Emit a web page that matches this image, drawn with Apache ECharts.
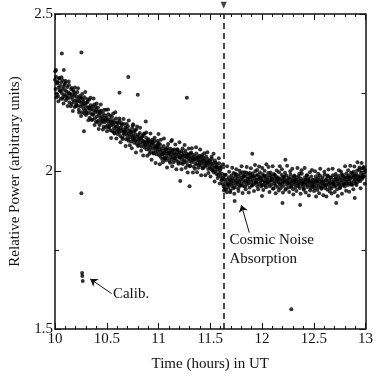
<!DOCTYPE html>
<html>
<head>
<meta charset="utf-8">
<script src="https://cdn.jsdelivr.net/npm/echarts@6/dist/echarts.min.js"></script>
<style>
  html, body { margin: 0; padding: 0; background: #fff; }
  #chart { width: 376px; height: 377px; }
</style>
</head>
<body>
<div id="chart"></div>
<script>
// Receiver power samples, one every 0.005 h, split in half-hour blocks.
const sampleStep = 0.005;
const blockStarts = [10.0, 10.5, 11.0, 11.5, 12.0, 12.5];

const power1000 = [ // 10.0 - 10.5
  2.291, 2.262, 2.301, 2.248, 2.279, 2.285, 2.240, 2.266, 2.296, 2.257,
  2.272, 2.231, 2.283, 2.249, 2.262, 2.290, 2.238, 2.270, 2.244, 2.259,
  2.281, 2.226, 2.254, 2.241, 2.268, 2.232, 2.251, 2.275, 2.219, 2.247,
  2.236, 2.262, 2.214, 2.243, 2.229, 2.258, 2.221, 2.240, 2.205, 2.247,
  2.226, 2.213, 2.238, 2.252, 2.209, 2.231, 2.196, 2.224, 2.240, 2.207,
  2.219, 2.234, 2.188, 2.211, 2.229, 2.200, 2.216, 2.236, 2.193, 2.209,
  2.179, 2.218, 2.199, 2.221, 2.186, 2.204, 2.228, 2.171, 2.195, 2.210,
  2.183, 2.199, 2.164, 2.207, 2.181, 2.194, 2.213, 2.169, 2.188, 2.158,
  2.197, 2.175, 2.190, 2.203, 2.162, 2.180, 2.148, 2.186, 2.171, 2.193,
  2.155, 2.174, 2.161, 2.184, 2.142, 2.169, 2.156, 2.178, 2.140, 2.165
];
const power1050 = [ // 10.5 - 11.0
  2.171, 2.146, 2.160, 2.182, 2.139, 2.153, 2.166, 2.131, 2.158, 2.147,
  2.174, 2.128, 2.150, 2.163, 2.137, 2.121, 2.155, 2.142, 2.168, 2.130,
  2.144, 2.119, 2.152, 2.136, 2.125, 2.160, 2.113, 2.140, 2.129, 2.148,
  2.108, 2.133, 2.122, 2.151, 2.117, 2.128, 2.140, 2.102, 2.124, 2.135,
  2.115, 2.144, 2.098, 2.120, 2.131, 2.109, 2.126, 2.095, 2.117, 2.138,
  2.104, 2.112, 2.127, 2.091, 2.108, 2.119, 2.099, 2.133, 2.087, 2.110,
  2.097, 2.116, 2.084, 2.103, 2.122, 2.092, 2.106, 2.079, 2.100, 2.113,
  2.088, 2.096, 2.118, 2.076, 2.094, 2.083, 2.107, 2.071, 2.091, 2.099,
  2.080, 2.102, 2.068, 2.087, 2.076, 2.095, 2.061, 2.084, 2.093, 2.072,
  2.089, 2.057, 2.078, 2.097, 2.066, 2.081, 2.055, 2.074, 2.086, 2.063
];
const power1100 = [ // 11.0 - 11.5
  2.078, 2.052, 2.069, 2.085, 2.047, 2.061, 2.074, 2.040, 2.066, 2.055,
  2.081, 2.044, 2.059, 2.071, 2.036, 2.063, 2.050, 2.077, 2.042, 2.058,
  2.067, 2.033, 2.054, 2.072, 2.046, 2.060, 2.039, 2.065, 2.051, 2.029,
  2.057, 2.070, 2.043, 2.053, 2.035, 2.062, 2.048, 2.068, 2.031, 2.055,
  2.044, 2.061, 2.027, 2.050, 2.064, 2.038, 2.052, 2.024, 2.047, 2.059,
  2.036, 2.049, 2.066, 2.030, 2.045, 2.056, 2.021, 2.042, 2.054, 2.033,
  2.048, 2.018, 2.040, 2.060, 2.029, 2.044, 2.035, 2.052, 2.015, 2.038,
  2.047, 2.026, 2.041, 2.057, 2.022, 2.036, 2.045, 2.012, 2.033, 2.050,
  2.027, 2.039, 2.019, 2.046, 2.030, 2.010, 2.034, 2.043, 2.024, 2.037,
  2.016, 2.031, 2.048, 2.020, 2.028, 2.040, 2.008, 2.025, 2.035, 2.014
];
const power1150 = [ // 11.5 - 12.0
  2.031, 2.009, 2.024, 2.040, 2.003, 2.018, 2.027, 1.997, 2.012, 2.035,
  2.001, 2.015, 1.992, 2.022, 2.006, 1.989, 2.013, 2.026, 1.995, 2.004,
  1.985, 2.011, 1.972, 1.993, 1.960, 1.981, 1.952, 1.976, 1.945, 1.968,
  1.990, 1.957, 1.934, 1.975, 1.963, 1.949, 1.982, 1.958, 1.971, 1.940,
  1.966, 1.987, 1.954, 1.978, 1.961, 1.995, 1.969, 1.950, 1.983, 1.972,
  1.958, 1.990, 1.964, 1.977, 1.947, 1.985, 1.968, 1.956, 1.993, 1.974,
  1.962, 1.981, 1.998, 1.955, 1.973, 1.988, 1.966, 1.952, 1.984, 1.970,
  1.996, 1.959, 1.977, 1.991, 1.963, 1.980, 1.949, 1.975, 1.989, 1.967,
  1.982, 1.957, 1.994, 1.971, 1.985, 1.960, 1.978, 2.001, 1.964, 1.987,
  1.973, 1.953, 1.990, 1.976, 1.961, 1.983, 1.997, 1.968, 1.979, 1.958
];
const power1200 = [ // 12.0 - 12.5
  1.972, 1.991, 1.958, 1.983, 1.969, 2.002, 1.964, 1.978, 1.950, 1.986,
  1.974, 1.961, 1.995, 1.967, 1.980, 1.953, 1.988, 1.971, 1.959, 1.984,
  1.976, 1.945, 1.970, 1.992, 1.962, 1.979, 1.956, 1.985, 1.968, 1.974,
  1.951, 1.981, 1.965, 1.998, 1.960, 1.973, 1.947, 1.977, 1.989, 1.963,
  1.970, 1.954, 1.983, 1.966, 1.975, 1.942, 1.969, 1.987, 1.958, 1.972,
  1.964, 1.980, 1.949, 1.976, 1.961, 1.990, 1.967, 1.955, 1.979, 1.971,
  1.944, 1.965, 1.984, 1.959, 1.973, 1.950, 1.968, 1.982, 1.962, 1.975,
  1.957, 1.986, 1.966, 1.948, 1.970, 1.978, 1.960, 1.993, 1.964, 1.953,
  1.972, 1.946, 1.967, 1.981, 1.958, 1.975, 1.963, 1.988, 1.951, 1.969,
  1.977, 1.956, 1.966, 1.940, 1.971, 1.984, 1.961, 1.952, 1.974, 1.965
];
const power1250 = [ // 12.5 - 13.0
  1.958, 1.975, 1.947, 1.966, 1.984, 1.954, 1.970, 1.941, 1.962, 1.979,
  1.951, 1.968, 1.987, 1.957, 1.973, 1.945, 1.964, 1.981, 1.953, 1.969,
  1.960, 1.990, 1.948, 1.972, 1.956, 1.977, 1.943, 1.966, 1.985, 1.959,
  1.971, 1.950, 1.963, 1.980, 1.946, 1.968, 1.957, 1.988, 1.962, 1.974,
  1.952, 1.967, 1.983, 1.955, 1.976, 1.944, 1.970, 1.961, 1.986, 1.958,
  1.973, 1.949, 1.979, 1.965, 1.991, 1.956, 1.972, 1.984, 1.960, 1.977,
  1.952, 1.981, 1.968, 1.994, 1.963, 1.975, 1.957, 1.987, 1.970, 1.982,
  1.961, 1.978, 1.996, 1.966, 1.985, 1.958, 1.980, 1.999, 1.969, 1.988,
  1.974, 1.962, 1.992, 1.979, 2.003, 1.967, 1.986, 1.975, 2.006, 1.983,
  1.970, 1.995, 1.981, 2.009, 1.977, 1.990, 2.012, 1.984, 1.998, 2.005
];
const powerBlocks = [power1000, power1050, power1100, power1150, power1200, power1250];

// second receiver channel: every 0.01 h, offset by 0.0025 h, noisier
const altStep = 0.01;
const altOffset = 0.0025;
const alt1000 = [
  2.318, 2.236, 2.282, 2.223, 2.296, 2.255, 2.299, 2.231, 2.216, 2.276,
  2.287, 2.235, 2.208, 2.286, 2.248, 2.207, 2.265, 2.192, 2.252, 2.267,
  2.207, 2.221, 2.264, 2.187, 2.234, 2.176, 2.246, 2.222, 2.184, 2.252,
  2.187, 2.229, 2.163, 2.202, 2.234, 2.164, 2.180, 2.232, 2.148, 2.205,
  2.216, 2.156, 2.135, 2.191, 2.213, 2.162, 2.133, 2.195, 2.163, 2.196
];
const alt1050 = [
  2.128, 2.197, 2.142, 2.178, 2.106, 2.156, 2.184, 2.124, 2.188, 2.105,
  2.156, 2.132, 2.168, 2.093, 2.153, 2.103, 2.167, 2.128, 2.081, 2.151,
  2.104, 2.162, 2.083, 2.125, 2.074, 2.146, 2.100, 2.131, 2.060, 2.143,
  2.081, 2.105, 2.139, 2.066, 2.112, 2.051, 2.121, 2.085, 2.124, 2.050,
  2.095, 2.056, 2.121, 2.037, 2.101, 2.059, 2.107, 2.027, 2.077, 2.097
];
const alt1100 = [
  2.090, 2.023, 2.101, 2.055, 2.029, 2.105, 2.041, 2.071, 2.013, 2.087,
  2.059, 2.028, 2.096, 2.017, 2.069, 2.041, 2.086, 2.007, 2.071, 2.025,
  2.093, 2.045, 2.007, 2.073, 2.029, 2.084, 2.012, 2.050, 1.997, 2.073,
  2.017, 2.057, 2.074, 1.997, 2.041, 2.009, 2.077, 1.998, 2.046, 2.022,
  2.070, 1.988, 2.052, 2.011, 2.058, 1.988, 2.026, 2.061, 1.995, 2.034
];
const alt1150 = [
  1.984, 2.047, 2.005, 2.056, 1.968, 2.028, 2.014, 1.979, 2.042, 1.962,
  2.015, 1.975, 2.023, 1.940, 1.989, 1.943, 2.017, 1.959, 1.999, 1.934,
  1.974, 2.012, 1.947, 1.929, 1.993, 2.007, 1.964, 1.938, 2.002, 1.955,
  2.017, 1.932, 1.985, 1.998, 1.944, 2.014, 1.970, 1.933, 1.995, 2.010,
  1.955, 1.985, 1.938, 2.021, 1.965, 2.005, 1.944, 2.016, 1.979, 1.952
];
const alt1200 = [
  2.011, 1.941, 1.987, 1.955, 2.023, 1.966, 2.014, 1.935, 1.997, 1.974,
  2.017, 1.947, 1.990, 1.931, 2.003, 1.976, 1.940, 2.017, 1.957, 2.007,
  1.933, 1.984, 1.996, 1.945, 2.018, 1.963, 1.935, 2.001, 1.951, 2.009,
  1.927, 1.987, 1.974, 1.938, 2.011, 1.954, 1.994, 1.929, 2.004, 1.962,
  1.942, 2.011, 1.933, 1.987, 1.974, 1.924, 1.998, 1.947, 2.005, 1.954
];
const alt1250 = [
  1.938, 2.001, 1.921, 1.974, 1.993, 1.931, 2.009, 1.948, 1.968, 1.925,
  1.999, 1.957, 1.921, 1.987, 2.006, 1.937, 1.981, 1.930, 2.009, 1.961,
  1.935, 1.992, 1.976, 1.922, 2.004, 1.948, 2.000, 1.929, 1.988, 1.960,
  2.017, 1.939, 1.982, 2.004, 1.936, 2.018, 1.958, 1.994, 1.944, 2.016,
  1.985, 1.957, 2.029, 1.974, 2.013, 1.947, 2.027, 1.984, 2.014, 1.961
];
const altBlocks = [alt1000, alt1050, alt1100, alt1150, alt1200, alt1250];

// isolated points away from the main band [time, power]
const strayTimes  = [10.01, 10.066, 10.085, 10.255, 10.28, 10.623, 10.708, 10.755, 10.80, 10.877,
                     11.0, 11.13, 11.21, 11.274, 11.30, 11.736, 11.906, 12.0, 12.198, 12.226,
                     12.368, 12.717, 12.896, 10.255, 12.283];
const strayPowers = [2.322, 2.375, 2.322, 2.378, 2.128, 2.25, 2.30, 2.15, 2.244, 2.159,
                     2.119, 2.10, 1.97, 2.234, 1.953, 1.906, 2.056, 1.922, 1.90, 2.037,
                     1.894, 1.90, 1.916, 1.931, 1.5625];

// calibration pulse
const calibTimes  = [10.262, 10.264, 10.268];
const calibPowers = [1.678, 1.668, 1.652];

const onsetTime = 11.63;
const xTicks = { min: 10, max: 13, step: 0.5 };
const yTicks = { min: 1.5, max: 2.5, step: 0.5 };

const samples = [];
powerBlocks.forEach((block, b) => {
  block.forEach((v, i) => samples.push([+(blockStarts[b] + i * sampleStep).toFixed(4), v]));
});
altBlocks.forEach((block, b) => {
  block.forEach((v, i) => samples.push([+(blockStarts[b] + altOffset + i * altStep).toFixed(4), v]));
});
strayTimes.forEach((t, i) => samples.push([t, strayPowers[i]]));
const calib = calibTimes.map((t, i) => [t, calibPowers[i]]);

const FONT = '"Liberation Serif", "DejaVu Serif", serif';
const INK = '#111';

const baseX = {
  type: 'value', min: xTicks.min, max: xTicks.max, interval: xTicks.step,
  axisLine: { show: true, onZero: false, lineStyle: { color: INK, width: 1.5 } },
  axisTick: { show: true, inside: true, length: 6, lineStyle: { color: INK, width: 1 } },
  minorTick: { show: true, splitNumber: 5, length: 3, lineStyle: { color: INK, width: 1 } },
  splitLine: { show: false },
};
const baseY = {
  type: 'value', min: yTicks.min, max: yTicks.max, interval: yTicks.step,
  axisLine: { show: true, onZero: false, lineStyle: { color: INK, width: 1.5 } },
  axisTick: { show: true, inside: true, length: 6, lineStyle: { color: INK, width: 1 } },
  minorTick: { show: true, splitNumber: 2, length: 4, lineStyle: { color: INK, width: 1 } },
  splitLine: { show: false },
};

const chart = echarts.init(document.getElementById('chart'), null, { renderer: 'canvas' });
chart.setOption({
  animation: false,
  backgroundColor: '#fff',
  textStyle: { fontFamily: FONT, color: INK },
  grid: { left: 52, right: 6, top: 14, bottom: 43 },
  xAxis: [
    Object.assign({}, baseX, {
      position: 'bottom',
      name: 'Time (hours) in UT', nameLocation: 'middle', nameGap: 28,
      nameTextStyle: { fontFamily: FONT, fontSize: 15, color: INK },
      axisLabel: { fontFamily: FONT, fontSize: 15, color: INK, margin: 3 },
    }),
    Object.assign({}, baseX, { position: 'top', axisLabel: { show: false } }),
  ],
  yAxis: [
    Object.assign({}, baseY, {
      position: 'left',
      name: 'Relative Power (arbitrary units)', nameLocation: 'middle', nameGap: 32,
      nameTextStyle: { fontFamily: FONT, fontSize: 15, color: INK },
      axisLabel: { fontFamily: FONT, fontSize: 15, color: INK, margin: 2 },
    }),
    Object.assign({}, baseY, { position: 'right', axisLabel: { show: false } }),
  ],
  series: [
    {
      type: 'scatter', data: samples, symbolSize: 4,
      itemStyle: { color: '#000' },
    },
    {
      type: 'scatter', data: calib, symbolSize: 4,
      itemStyle: { color: '#000' },
      markLine: {
        silent: true, symbol: ['none', 'none'],
        label: { show: false },
        lineStyle: { color: INK, width: 1.5, type: [6, 4] },
        data: [{ xAxis: onsetTime }],
      },
    },
    {
      // annotation arrows and notes
      type: 'scatter', data: [], symbolSize: 0,
      markLine: {
        silent: true, symbol: ['none', 'arrow'], symbolSize: 7,
        label: { show: false },
        lineStyle: { color: INK, width: 1, type: 'solid' },
        data: [
          [{ coord: [10.547, 1.6125] }, { coord: [10.34, 1.659] }],
          [{ coord: [11.877, 1.806] }, { coord: [11.80, 1.894] }],
        ],
      },
      markPoint: {
        silent: true, symbol: 'circle', symbolSize: 0,
        label: { show: true, position: 'right', distance: 0, fontFamily: FONT, fontSize: 15, color: INK, lineHeight: 19 },
        data: [
          { coord: [10.56, 1.61], label: { formatter: 'Calib.' } },
          { coord: [11.685, 1.752], label: { formatter: 'Cosmic Noise\nAbsorption' } },
        ],
      },
    },
    {
      // onset marker above the frame
      type: 'scatter', data: [[onsetTime, 2.528]], clip: false,
      symbol: 'triangle', symbolRotate: 180, symbolSize: [6, 7],
      itemStyle: { color: INK },
    },
  ],
});
</script>
</body>
</html>
